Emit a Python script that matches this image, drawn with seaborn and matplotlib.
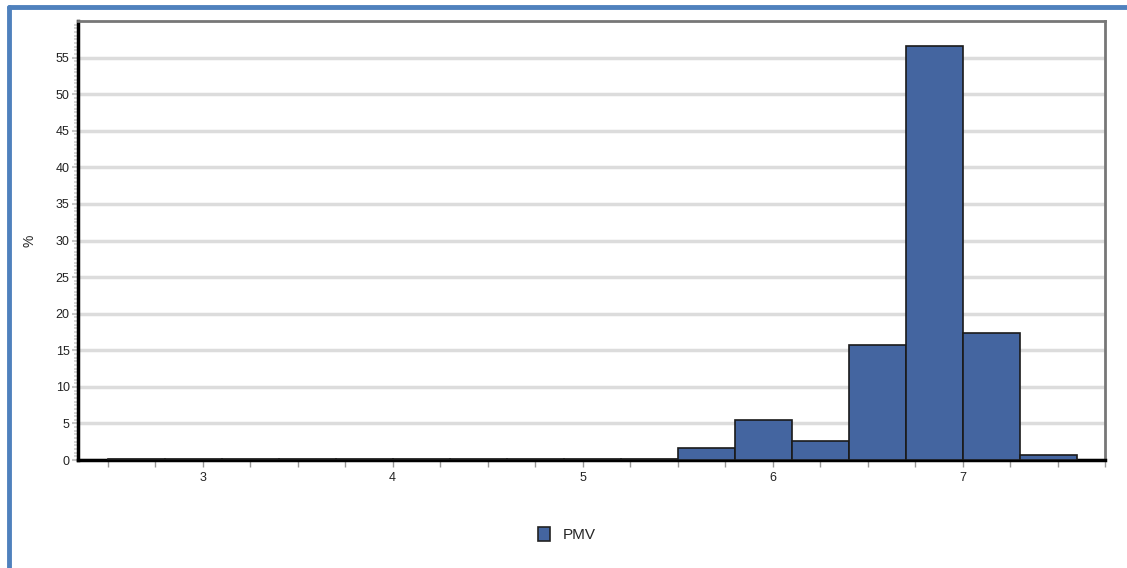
import numpy as np
import pandas as pd
import matplotlib
matplotlib.use('Agg')
import matplotlib.pyplot as plt
import seaborn as sns
from matplotlib.lines import Line2D
from matplotlib.patches import Rectangle

# histogram bins (PMV), width 0.3 from 2.5 to 7.6
bin_edges = [2.5, 2.8, 3.1, 3.4, 3.7, 4.0, 4.3, 4.6, 4.9, 5.2, 5.5,
             5.8, 6.1, 6.4, 6.7, 7.0, 7.3, 7.6]
percent = [0.1, 0.1, 0.1, 0.1, 0.1, 0.1, 0.1, 0.1, 0.1, 0.1,
           1.6, 5.5, 2.6, 15.7, 56.6, 17.3, 0.7]
series_name = 'PMV'
x_ticks = [3, 4, 5, 6, 7]

bar_color = '#4465a0'

sns.set_theme(style='white')
plt.rcParams['font.family'] = ['Liberation Sans', 'DejaVu Sans']

centers = [(a + b) / 2 for a, b in zip(bin_edges[:-1], bin_edges[1:])]
df = pd.DataFrame({'pmv': centers, 'pct': percent})

fig = plt.figure(figsize=(11.27, 5.68), dpi=100)
ax = fig.add_axes([0.0692, 0.190, 0.9113, 0.773])

sns.histplot(data=df, x='pmv', weights='pct', bins=bin_edges, ax=ax,
             color=bar_color, alpha=1, edgecolor='#1a1a1a', linewidth=1.2,
             zorder=3)

ax.set_xlim(2.344, 7.733)
ax.set_ylim(0, 60)
ax.set_yticks(np.arange(0, 60, 5))
ax.set_yticks(np.arange(0, 60, 0.5), minor=True)
ax.set_xticks(x_ticks)
ax.set_xticks(np.arange(2.5, 7.76, 0.25), minor=True)
ax.tick_params(axis='both', which='major', labelsize=9, colors='#222222')
ax.tick_params(axis='x', which='both', length=5, width=1, color='#999999', direction='out')
ax.tick_params(axis='y', which='major', length=4, width=1.5, color='#c4c4c4', pad=2)
ax.tick_params(axis='y', which='minor', length=3, width=1.2, color='#cccccc')
ax.tick_params(axis='both', which='both', left=True, bottom=True)
ax.grid(axis='y', color='#dcdcdc', linewidth=2.5, zorder=0)
ax.set_axisbelow(True)

ax.set_xlabel('')
ax.set_ylabel('%', fontsize=10, labelpad=14)

for side in ['left', 'bottom']:
    ax.spines[side].set_color('black')
    ax.spines[side].set_linewidth(2.5)
for side in ['top', 'right']:
    ax.spines[side].set_color('#777777')
    ax.spines[side].set_linewidth(2)

handle = Rectangle((0, 0), 1, 1, facecolor=bar_color, edgecolor='#222222', linewidth=1.2)
ax.legend([handle], [series_name], loc='upper center', bbox_to_anchor=(0.476, -0.12),
          frameon=False, fontsize=11, handlelength=0.8, handleheight=1.1)

# blue frame around the figure (top and left visible)
fig.add_artist(Line2D([0.008, 1.0], [0.988, 0.988], color='#4f81bd', linewidth=3.5))
fig.add_artist(Line2D([0.008, 0.008], [0.0, 0.988], color='#4f81bd', linewidth=3.5))

fig.savefig('out.png', dpi=100)
plt.close(fig)
